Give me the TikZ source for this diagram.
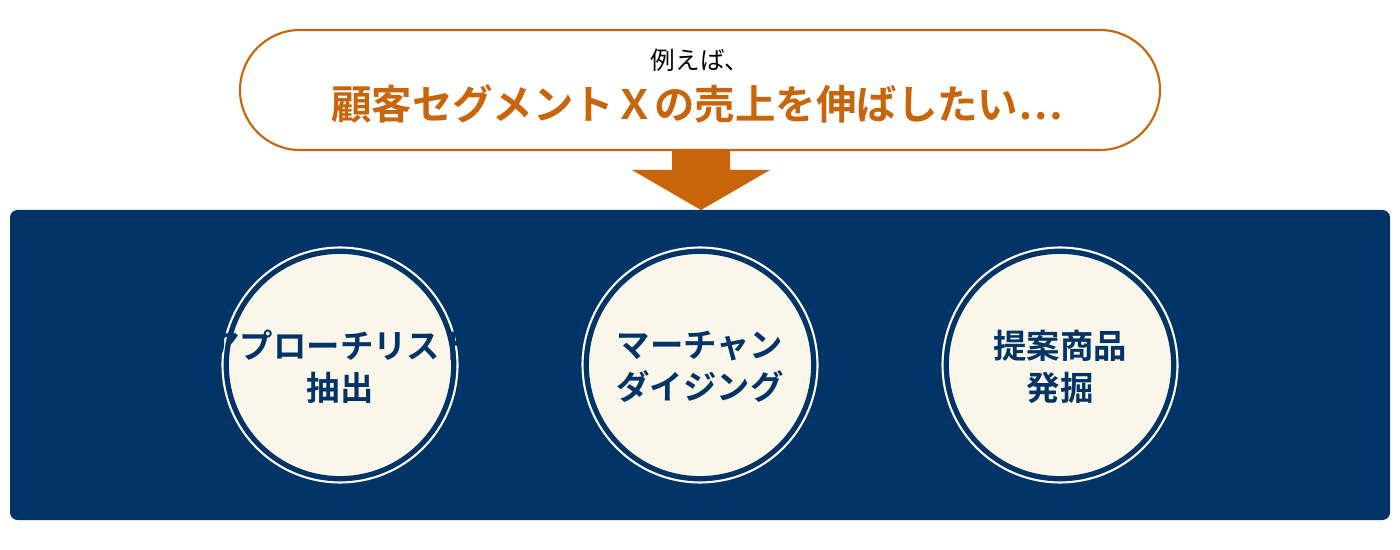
\documentclass[tikz,border=0pt]{standalone}
\usepackage{fontspec}
\setmainfont{Noto Sans CJK JP}
\newfontfamily\cjkbold{Noto Sans CJK JP Bold}
\definecolor{navy}{RGB}{0,51,102}
\definecolor{amber}{RGB}{200,100,10}
\definecolor{cream}{RGB}{250,246,234}
\begin{document}
\begin{tikzpicture}
[
x=0.02cm, y=-0.02cm,
pill/.style={rectangle, draw=amber, line width=1.2pt, fill=white},
topic/.style={circle, fill=cream, draw=navy, line width=1pt, minimum size=4.48cm, inner sep=0pt},
caption/.style={align=center, text=navy, font=\cjkbold\fontsize{19}{24}\selectfont},
ring/.style={circle, draw=white, line width=1.2pt, minimum size=4.7cm, inner sep=0pt},
]
\useasboundingbox (0,0) rectangle (1400,550);
\draw [pill, rounded corners=1.2cm] (240,30) rectangle (1160,150);
\node (lead) at (700,60) {\fontsize{14}{16}\selectfont 例えば、};
\node (goal) at (697,104) [text=amber, font=\cjkbold\fontsize{23}{27}\selectfont] {顧客セグメントＸの売上を伸ばしたい⋯};
\fill [amber] (672,150) -- (730,150) -- (730,170) -- (770,170) -- (701,210) -- (632,170) -- (672,170) -- cycle;
\fill [navy, rounded corners=0.15cm] (10,210) rectangle (1390,520);
\foreach \cx/\name/\txt in {340/list/{アプローチリスト\\抽出}, 700/merch/{マーチャン\\ダイジング}, 1060/item/{提案商品\\発掘}}
{
  \node (\name ring) [ring] at (\cx,365) {};
  \node (\name) [topic] at (\cx,365) {};
  \node (\name text) [caption] at (\cx,367) {\txt};
}
\end{tikzpicture}
\end{document}
